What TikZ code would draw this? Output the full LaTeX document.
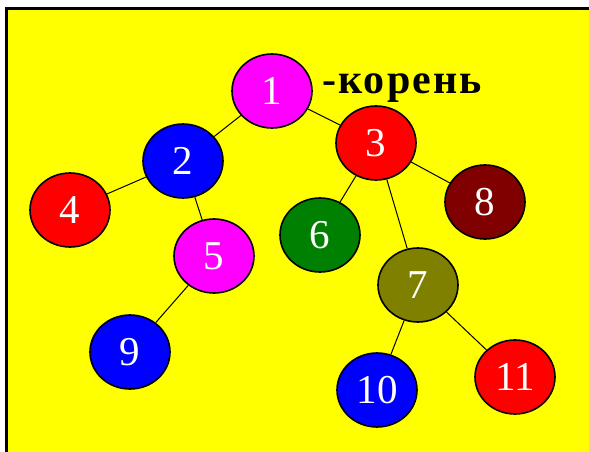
\documentclass[tikz,border=0pt]{standalone}
\usepackage{fontspec}
\setmainfont{Liberation Serif}
\newfontfamily\rootfont[LetterSpace=5]{Liberation Serif}
\usetikzlibrary{shapes.geometric}
\definecolor{bgclr}{RGB}{255,255,0}
\definecolor{pinkclr}{RGB}{255,0,255}
\definecolor{blueclr}{RGB}{0,0,255}
\definecolor{redclr}{RGB}{255,0,0}
\definecolor{brownclr}{RGB}{128,0,0}
\definecolor{greenclr}{RGB}{0,128,0}
\definecolor{oliveclr}{RGB}{128,128,0}
\tikzset{
  vert/.style={ellipse,draw=black,line width=1.6pt,inner sep=0pt,
               minimum width=80,minimum height=74,text=white,
               font=\fontsize{41}{41}\selectfont},
  vpink/.style={vert,fill=pinkclr},
  vblue/.style={vert,fill=blueclr},
  vred/.style={vert,fill=redclr},
  vbrown/.style={vert,fill=brownclr},
  vgreen/.style={vert,fill=greenclr},
  volive/.style={vert,fill=oliveclr},
  edge/.style={black,line width=1pt},
}
\begin{document}
\begin{tikzpicture}[x=1pt,y=-1pt]
\useasboundingbox (0,0) rectangle (589,452);
% Frame
\fill[bgclr] (6,9) rectangle (589,452);
\draw[line width=3pt] (6,452) -- (6,9) -- (589,9);

% Vertices
\node[vpink]  (n1)  at (272,91)  {1};
\node[vblue]  (n2)  at (183,161) {2};
\node[vred]   (n3)  at (376,143) {3};
\node[vred]   (n4)  at (70,210)  {4};
\node[vpink]  (n5)  at (214,256) {5};
\node[vgreen] (n6)  at (320,235) {6};
\node[volive] (n7)  at (418,285) {7};
\node[vbrown] (n8)  at (485,202) {8};
\node[vblue]  (n9)  at (130,352) {9};
\node[vblue]  (n10) at (377,390) {10};
\node[vred]   (n11) at (515,377) {11};

% Root label
\node[font=\rootfont\bfseries\fontsize{42}{42}\selectfont,
      anchor=base west,inner sep=0pt] (root) at (322,93) {-корень};

% Edges
\draw[edge] (n1) -- (n2);
\draw[edge] (n1) -- (n3);
\draw[edge] (n2) -- (n4);
\draw[edge] (n2) -- (n5);
\draw[edge] (n5) -- (n9);
\draw[edge] (n3) -- (n6);
\draw[edge] (n3) -- (n7);
\draw[edge] (n3) -- (n8);
\draw[edge] (n7) -- (n10);
\draw[edge] (n7) -- (n11);
\end{tikzpicture}
\end{document}
